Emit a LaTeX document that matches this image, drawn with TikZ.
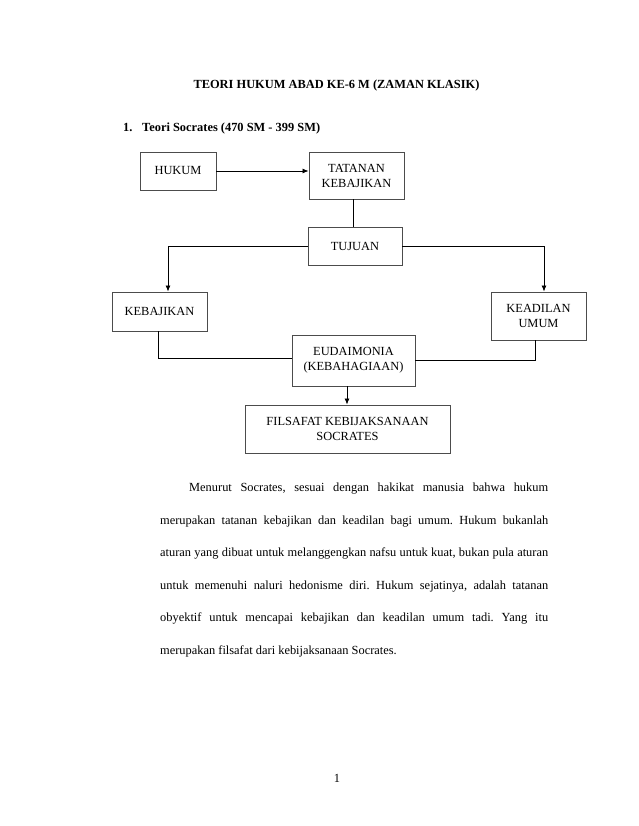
\documentclass[tikz,border=0pt]{standalone}
\usepackage{fontspec}
\setmainfont{Liberation Serif}
\usetikzlibrary{arrows.meta,calc}
\frenchspacing
\begin{document}
\begin{tikzpicture}[x=1pt,y=-1pt,
  box/.style={draw=black!70,line width=0.9pt,align=center,inner sep=0pt,
    font=\fontsize{12.4}{15}\selectfont},
  conn/.style={draw=black,line width=0.8pt},
  arr/.style={conn,-{Latex[length=6pt,width=5pt]}},
  txt/.style={inner sep=0pt,font=\fontsize{12.4}{15}\selectfont}]
\useasboundingbox[fill=white] (0,0) rectangle (638,826);
% headings
\node[txt,anchor=base,font=\fontsize{12.4}{15}\selectfont\bfseries] (title) at (336.5,89) {TEORI HUKUM ABAD KE-6 M (ZAMAN KLASIK)};
\node[txt,anchor=base west,font=\fontsize{12.4}{15}\selectfont\bfseries] (num) at (123,131.5) {1.};
\node[txt,anchor=base west,font=\fontsize{12.4}{15}\selectfont\bfseries] (item) at (142,131.5) {Teori Socrates (470 SM - 399 SM)};
% boxes
\node[box,minimum width=76,minimum height=38] (hukum) at (178,171) {HUKUM};
\node[box,minimum width=95,minimum height=47] (tatanan) at (356.5,175.5) {TATANAN\\KEBAJIKAN};
\node[box,minimum width=94,minimum height=38] (tujuan) at (355,246) {TUJUAN};
\node[box,minimum width=95,minimum height=39] (kebajikan) at (159.5,311.5) {KEBAJIKAN};
\node[box,minimum width=95,minimum height=48] (keadilan) at (538.5,316) {KEADILAN\\UMUM};
\node[box,minimum width=123,minimum height=51] (eud) at (353.5,360.5) {EUDAIMONIA\\(KEBAHAGIAAN)};
\node[box,minimum width=205,minimum height=48] (fil) at (347.5,429) {FILSAFAT KEBIJAKSANAAN\\SOCRATES};
% connectors
\draw[arr] (hukum.east) -- (tatanan.west |- hukum.east);
\draw[conn] ([xshift=-3.5pt]tatanan.south) -- ([xshift=-3.5pt]tatanan.south |- tujuan.north);
\draw[arr] (tujuan.west) -| ([xshift=8.5pt]kebajikan.north);
\draw[arr] (tujuan.east) -| ([xshift=5.5pt]keadilan.north);
\draw[conn] ([xshift=-1.5pt]kebajikan.south) |- ([yshift=2.5pt]eud.west);
\draw[conn] ([xshift=-3.5pt]keadilan.south) |- ([yshift=0.5pt]eud.east);
\draw[arr] ([xshift=-6.5pt]eud.south) -- ([xshift=-6.5pt]eud.south |- fil.north);
% paragraph
\node[txt,anchor=base west] (p1) at (189,491.5) {\makebox[359pt][s]{Menurut Socrates, sesuai dengan hakikat manusia bahwa hukum}};
\node[txt,anchor=base west] (p2) at (160,524.1) {\makebox[388pt][s]{merupakan tatanan kebajikan dan keadilan bagi umum. Hukum bukanlah}};
\node[txt,anchor=base west] (p3) at (160,556.7) {\makebox[388pt][s]{aturan yang dibuat untuk melanggengkan nafsu untuk kuat, bukan pula aturan}};
\node[txt,anchor=base west] (p4) at (160,589.3) {\makebox[388pt][s]{untuk memenuhi naluri hedonisme diri. Hukum sejatinya, adalah tatanan}};
\node[txt,anchor=base west] (p5) at (160,621.9) {\makebox[388pt][s]{obyektif untuk mencapai kebajikan dan keadilan umum tadi. Yang itu}};
\node[txt,anchor=base west] (p6) at (160,654.5) {merupakan filsafat dari kebijaksanaan Socrates.};
% page number
\node[txt,anchor=base] (pg) at (337,782.5) {1};
\end{tikzpicture}
\end{document}
